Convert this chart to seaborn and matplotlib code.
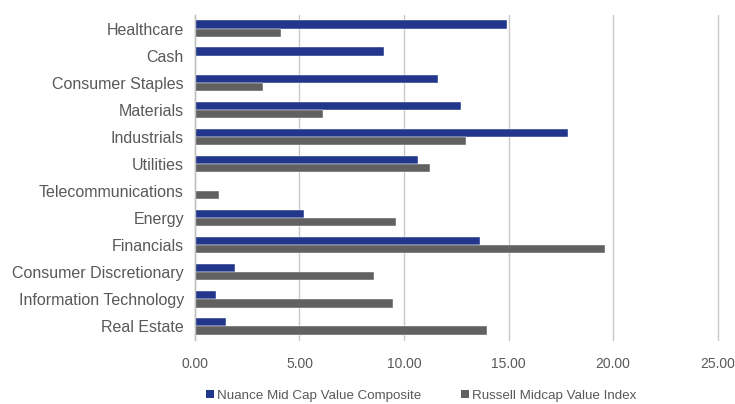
import matplotlib
matplotlib.use("Agg")
import matplotlib.pyplot as plt
import seaborn as sns
import pandas as pd
import numpy as np
from matplotlib.ticker import FormatStrFormatter, FixedLocator
from matplotlib.patches import Patch

sectors = ["Healthcare", "Cash", "Consumer Staples", "Materials", "Industrials",
           "Utilities", "Telecommunications", "Energy", "Financials",
           "Consumer Discretionary", "Information Technology", "Real Estate"]
nuance = [14.93, 9.04, 11.65, 12.74, 17.84, 10.69, 0.0, 5.23, 13.63, 1.92, 0.99, 1.47]
russell = [4.11, 0.0, 3.25, 6.11, 12.96, 11.26, 1.15, 9.62, 19.62, 8.58, 9.47, 13.97]
series_names = ["Nuance Mid Cap Value Composite", "Russell Midcap Value Index"]
x_ticks = [0, 5, 10, 15, 20, 25]

df = pd.DataFrame({
    "Sector": sectors * 2,
    "Value": nuance + russell,
    "Series": [series_names[0]] * len(sectors) + [series_names[1]] * len(sectors),
})

sns.set_theme(style="white")
plt.rcParams["font.family"] = ["Liberation Sans", "DejaVu Sans"]

text_color = "#595959"
fig = plt.figure(figsize=(7.35, 4.04), dpi=100)
ax = fig.add_axes([0.2653, 0.1584, 0.9762 - 0.2653, 0.9629 - 0.1584])

palette = {series_names[0]: "#22378C", series_names[1]: "#616161"}
sns.barplot(data=df, y="Sector", x="Value", hue="Series", order=sectors,
            hue_order=series_names, palette=palette, orient="h", width=0.6,
            saturation=1, edgecolor="white", linewidth=0.3, ax=ax, legend=False)

ax.set_xlim(0, 25)
ax.set_ylim(11.5, -0.5)
ax.xaxis.set_major_locator(FixedLocator(x_ticks))
ax.xaxis.set_major_formatter(FormatStrFormatter("%.2f"))
ax.set_xlabel("")
ax.set_ylabel("")
ax.grid(axis="x", color="#C8C8C8", linewidth=1.0)
for gl in ax.get_xgridlines():
    gl.set_clip_on(False)
ax.set_axisbelow(True)

for s in ["top", "right", "bottom"]:
    ax.spines[s].set_visible(False)
ax.spines["left"].set_color("#BFBFBF")
ax.spines["left"].set_linewidth(1.0)

ax.tick_params(axis="y", which="major", length=0, labelsize=11.5, labelcolor=text_color, pad=8)
ax.set_yticks(np.arange(-0.5, 12.0, 1.0), minor=True)
ax.tick_params(axis="y", which="minor", length=4, color="#BFBFBF", width=1)
ax.tick_params(axis="x", which="major", length=3, color="#C8C8C8", labelsize=10,
               labelcolor=text_color, pad=9)

handles = [Patch(facecolor=palette[n], edgecolor="none") for n in series_names]
fig.legend(handles, series_names, loc="center", bbox_to_anchor=(0.573, 0.02), ncol=2,
           frameon=False, fontsize=9.6, handlelength=0.6, handleheight=0.6,
           handletextpad=0.25, columnspacing=3.0, labelcolor=text_color)

fig.savefig("out.png", dpi=100)
